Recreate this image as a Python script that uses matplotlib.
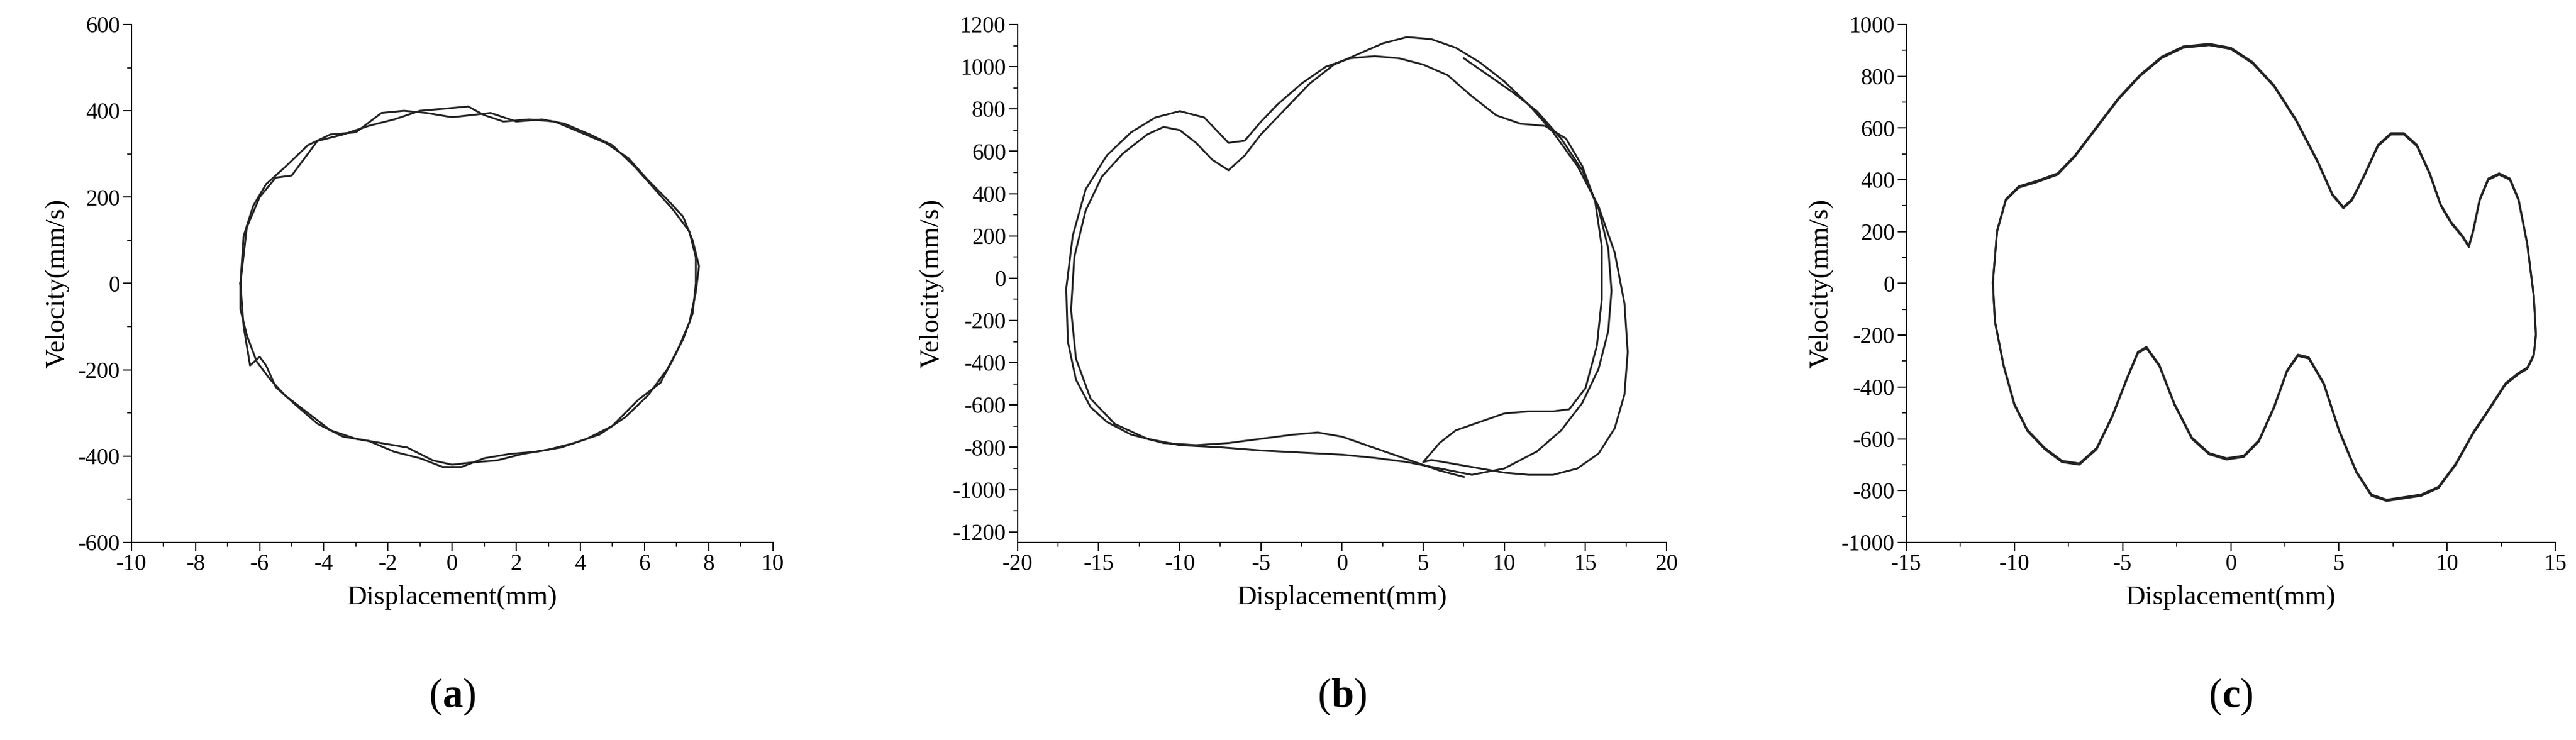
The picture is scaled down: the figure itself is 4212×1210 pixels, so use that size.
import matplotlib
matplotlib.use("Agg")
import matplotlib.pyplot as plt
from matplotlib.ticker import AutoMinorLocator, MultipleLocator

plt.rcParams['font.family'] = ['Liberation Serif', 'DejaVu Serif']
plt.rcParams['mathtext.fontset'] = 'custom'
plt.rcParams['mathtext.bf'] = 'Liberation Serif:bold'
plt.rcParams['mathtext.rm'] = 'Liberation Serif'
plt.rcParams['axes.unicode_minus'] = False

# (a) two loops
a_x1 = [-6.6, -6.5, -6.2, -5.8, -5.2, -4.5, -3.8, -3.0, -2.2, -1.5, -0.8, 0.0, 0.6, 1.2, 2.0, 2.8, 3.5, 4.3, 5.0, 5.7, 6.3, 6.9, 7.4, 7.6, 7.6, 7.5, 7.2, 6.7, 6.1, 5.4, 4.6, 3.8, 3.0, 2.2, 1.4, 0.6, 0.0, -0.6, -1.4, -2.2, -3.0, -3.8, -4.5, -5.2, -5.7, -6.1, -6.4, -6.6, -6.6]
a_y1 = [0, 110, 180, 230, 270, 320, 345, 350, 395, 400, 395, 385, 390, 395, 375, 380, 370, 345, 320, 270, 220, 170, 120, 60, 0, -70, -130, -200, -260, -310, -350, -370, -385, -395, -410, -415, -420, -410, -380, -370, -360, -340, -300, -260, -220, -180, -120, -60, 0]
a_x2 = [-6.6, -6.4, -6.0, -5.5, -5.0, -4.2, -3.4, -2.6, -1.8, -1.0, -0.2, 0.5, 1.0, 1.6, 2.4, 3.2, 4.0, 4.8, 5.5, 6.1, 6.7, 7.2, 7.5, 7.7, 7.6, 7.4, 7.0, 6.5, 5.8, 5.0, 4.2, 3.4, 2.6, 1.8, 1.0, 0.3, -0.3, -1.0, -1.8, -2.6, -3.4, -4.2, -4.9, -5.5, -5.8, -6.0, -6.3, -6.5, -6.6]
a_y2 = [0, 130, 200, 245, 250, 330, 345, 365, 380, 400, 405, 410, 390, 375, 380, 375, 350, 325, 290, 240, 195, 155, 100, 40, -20, -90, -160, -230, -270, -330, -360, -380, -390, -395, -405, -425, -425, -405, -390, -365, -355, -325, -280, -240, -190, -170, -190, -100, 0]

# (b)
b_x = [7.5, 9.0, 10.5, 12.0, 13.5, 14.8, 15.8, 16.4, 16.6, 16.4, 15.8, 14.8, 13.5, 12.0, 10.0, 8.0, 6.0, 4.0, 2.0, 0.0, -2.5, -5.0, -7.5, -10.0, -12.0, -14.0, -15.5, -16.4, -16.7, -16.5, -15.8, -14.8, -13.5, -12.0, -11.0, -10.0, -9.0, -8.0, -7.0, -6.0, -5.0, -3.5, -2.0, -0.5, 1.0, 2.5, 4.0, 5.5, 7.0, 8.5, 10.0, 11.5, 13.0, 14.5, 15.8, 16.8, 17.4, 17.6, 17.4, 16.8, 15.8, 14.5, 13.0, 11.5, 10.0, 8.5, 7.0, 5.5, 5.0, 6.0, 7.0, 8.5, 10.0, 11.5, 13.0, 14.0, 15.0, 15.7, 16.0, 16.0, 15.6, 14.8, 13.8, 12.5, 11.0, 9.5, 8.0, 6.5, 5.0, 3.5, 2.0, 0.5, -1.0, -2.5, -4.0, -5.0, -6.0, -7.0, -8.5, -10.0, -11.5, -13.0, -14.5, -15.8, -16.6, -17.0, -16.9, -16.4, -15.5, -14.5, -13.0, -11.0, -9.0, -7.0, -5.0, -3.0, -1.5, 0.0, 1.5, 3.0, 4.5, 6.0, 7.5]
b_y = [1040, 960, 880, 790, 660, 510, 330, 140, -60, -250, -430, -590, -720, -820, -900, -930, -900, -870, -850, -835, -825, -815, -800, -790, -760, -690, -570, -380, -150, 100, 320, 480, 590, 680, 715, 700, 640, 560, 510, 580, 680, 800, 920, 1010, 1060, 1110, 1140, 1130, 1090, 1020, 930, 820, 690, 530, 340, 120, -120, -350, -550, -710, -830, -900, -930, -930, -920, -900, -880, -860, -870, -780, -720, -680, -640, -630, -630, -620, -520, -320, -100, 150, 360, 530, 660, 720, 730, 770, 860, 960, 1010, 1040, 1050, 1040, 1000, 920, 820, 740, 650, 640, 760, 790, 760, 690, 580, 420, 200, -50, -300, -480, -610, -680, -740, -780, -790, -780, -760, -740, -730, -750, -790, -830, -870, -910, -940]

# (c)
c_x = [-11.0, -10.8, -10.4, -9.8, -9.0, -8.0, -7.2, -6.2, -5.2, -4.2, -3.2, -2.2, -1.0, 0.0, 1.0, 2.0, 3.0, 4.0, 4.7, 5.2, 5.6, 6.2, 6.8, 7.4, 8.0, 8.6, 9.2, 9.7, 10.2, 10.7, 11.0, 11.2, 11.5, 11.9, 12.4, 12.9, 13.3, 13.7, 14.0, 14.1, 14.0, 13.7, 13.3, 12.7, 12.0, 11.2, 10.4, 9.6, 8.8, 8.0, 7.2, 6.5, 5.8, 5.0, 4.3, 3.6, 3.1, 2.6, 2.0, 1.3, 0.6, -0.2, -1.0, -1.8, -2.6, -3.3, -3.9, -4.3, -4.8, -5.5, -6.2, -7.0, -7.8, -8.6, -9.4, -10.0, -10.5, -10.9, -11.0]
c_y = [0, 200, 320, 370, 390, 420, 490, 600, 710, 800, 870, 910, 920, 905, 850, 760, 630, 470, 340, 290, 320, 420, 530, 575, 575, 530, 420, 300, 230, 180, 140, 200, 320, 400, 420, 400, 320, 150, -50, -200, -280, -330, -350, -390, -480, -580, -700, -790, -820, -830, -840, -820, -730, -570, -390, -290, -280, -340, -480, -610, -670, -680, -660, -600, -470, -320, -250, -270, -370, -520, -640, -700, -690, -640, -570, -470, -320, -150, 0]

def style(ax, xlim, xmaj, ylim, ymaj):
    ax.set_xlim(*xlim); ax.set_ylim(*ylim)
    ax.xaxis.set_major_locator(MultipleLocator(xmaj))
    ax.yaxis.set_major_locator(MultipleLocator(ymaj))
    ax.xaxis.set_minor_locator(AutoMinorLocator(2))
    ax.yaxis.set_minor_locator(AutoMinorLocator(2))
    for s in ['top', 'right']:
        ax.spines[s].set_visible(False)
    for s in ['left', 'bottom']:
        ax.spines[s].set_linewidth(1.5)
    ax.tick_params(which='major', direction='out', length=10, width=1.5, labelsize=27)
    ax.tick_params(which='minor', direction='out', length=5, width=1.2)
    ax.set_xlabel('Displacement(mm)', fontsize=32, labelpad=12)
    ax.set_ylabel('Velocity(mm/s)', fontsize=32, labelpad=10)

fig = plt.figure(figsize=(42.12, 12.10), dpi=100)
axa = fig.add_axes([0.051, 0.267, 0.249, 0.70])
axb = fig.add_axes([0.395, 0.267, 0.252, 0.70])
axc = fig.add_axes([0.740, 0.267, 0.252, 0.70])
lw = 2.2
axa.plot(a_x1, a_y1, color='#222222', lw=lw)
axa.plot(a_x2, a_y2, color='#222222', lw=lw)
style(axa, (-10, 10), 2, (-600, 600), 200)
axb.plot(b_x, b_y, color='#222222', lw=lw)
style(axb, (-20, 20), 5, (-1250, 1200), 200)
axc.plot(c_x, c_y, color='#222222', lw=lw)
axc.plot(c_x, [v + 5 for v in c_y], color='#222222', lw=lw)
style(axc, (-15, 15), 5, (-1000, 1000), 200)

for ax, lab in [(axa, 'a'), (axb, 'b'), (axc, 'c')]:
    p = ax.get_position()
    fig.text((p.x0 + p.x1) / 2, 0.045, r'($\mathbf{' + lab + r'}$)', ha='center', fontsize=48)

fig.savefig('out.png', dpi=100, facecolor='white')
